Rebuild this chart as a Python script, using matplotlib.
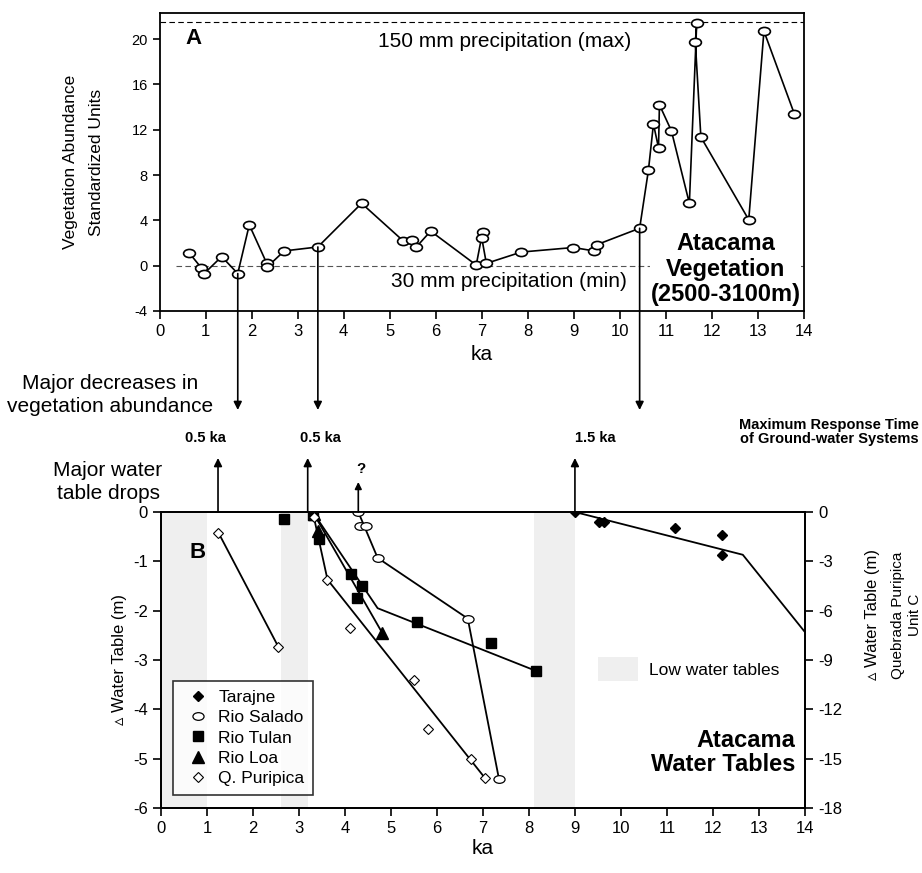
import numpy as np
import matplotlib
matplotlib.use('Agg')
import matplotlib.pyplot as plt
from matplotlib.path import Path
from matplotlib.transforms import Affine2D
from matplotlib.lines import Line2D
from matplotlib.patches import Patch

plt.rcParams['font.family'] = ['Liberation Sans', 'DejaVu Sans']
plt.rcParams['axes.unicode_minus'] = False

# ---- panel A: vegetation abundance (ka, standardized units)
veg_ka = [0.65, 0.91, 0.97, 1.35, 1.70, 1.95, 2.33, 2.33, 2.71, 3.44, 4.39, 5.29, 5.48,
          5.58, 5.89, 6.88, 7.02, 7.00, 7.10, 7.86, 8.99, 9.44, 9.50, 10.43, 10.62,
          10.73, 10.84, 10.86, 11.12, 11.51, 11.67, 11.64, 11.76, 12.80, 13.13, 13.79]
veg_val = [1.1, -0.2, -0.7, 0.8, -0.7, 3.6, 0.2, -0.15, 1.3, 1.65, 5.5, 2.2, 2.25,
           1.65, 3.05, 0.05, 3.0, 2.45, 0.2, 1.2, 1.6, 1.3, 1.85, 3.3, 8.4,
           12.5, 10.4, 14.2, 11.9, 5.5, 21.45, 19.7, 11.35, 4.05, 20.7, 13.4]
precip_max = 21.5
precip_min = 0.0
veg_drops = [(1.70, -0.7), (3.44, 1.65), (10.43, 3.3)]

# ---- panel B: water tables (ka, m)
tarajne_ka = [9.0, 9.52, 9.63, 11.17, 12.2, 12.2]
tarajne_wt = [0.0, -0.6, -0.6, -0.95, -1.4, -2.6]        # right axis
tarajne_fit_ka = [9.0, 12.65, 14.0]
tarajne_fit_wt = [0.0, -2.6, -7.3]

salado_ka = [4.29, 4.33, 4.46, 4.71, 6.67, 7.35]
salado_wt = [0.0, -0.28, -0.28, -0.93, -2.16, -5.42]
salado_fit_ka = [4.29, 4.71, 6.67, 7.35]
salado_fit_wt = [0.0, -0.93, -2.16, -5.42]

tulan_ka = [2.68, 3.31, 3.43, 4.14, 4.38, 4.27, 5.56, 7.17, 8.15]
tulan_wt = [-0.15, -0.06, -0.55, -1.26, -1.5, -1.75, -2.22, -2.66, -3.22]
tulan_fit_ka = [3.3, 4.71, 8.15]
tulan_fit_wt = [0.0, -1.95, -3.22]

loa_ka = [3.33, 3.42, 4.81]
loa_wt = [-0.05, -0.38, -2.45]
loa_fit_ka = [3.3, 4.81]
loa_fit_wt = [0.0, -2.45]

puripica_ka = [1.25, 2.55, 3.33, 3.62, 4.11, 5.51, 5.80, 6.74, 7.05]
puripica_wt = [-0.42, -2.73, -0.1, -1.37, -2.36, -3.41, -4.39, -5.0, -5.4]
puripica_fit1_ka = [1.25, 2.55]
puripica_fit1_wt = [-0.42, -2.73]
puripica_fit2_ka = [3.3, 3.62, 7.05]
puripica_fit2_wt = [0.0, -1.37, -5.4]

low_tables = [(0.0, 1.0), (2.6, 3.2), (8.1, 9.0)]
wt_drops = [1.24, 3.19, 9.0]
wt_drop_uncertain = 4.29
response_labels = ['0.5 ka', '0.5 ka', '1.5 ka']

W, H = 922, 873


def px(x, y):
    return x / W, 1 - y / H


fig = plt.figure(figsize=(W / 100, H / 100), dpi=100)
axA = fig.add_axes([0.173, 0.6438, 0.699, 0.3413])
axB = fig.add_axes([0.1746, 0.0745, 0.6984, 0.339])

ellipse = Path.unit_circle().transformed(Affine2D().scale(1.45, 1.0))

# ---------------- panel A
axA.plot(veg_ka, veg_val, color='k', lw=1.2, marker=ellipse, ms=8.5,
         mfc='white', mec='k', mew=1.2, zorder=3)
axA.axhline(precip_max, color='k', lw=0.8, ls=(0, (5, 3)))
axA.hlines(precip_min, 0.35, 14, color='#555555', lw=0.8, ls=(0, (5, 3)))
axA.set_xlim(0, 14)
axA.set_ylim(-4, 22.3)
axA.set_xticks(range(0, 15))
axA.set_yticks(range(-4, 21, 4))
axA.tick_params(axis='y', direction='out', length=5, width=1.2, labelsize=10.5)
axA.tick_params(axis='x', direction='out', length=6, width=1.2, labelsize=12)
for s in axA.spines.values():
    s.set_linewidth(1.3)
axA.set_xlabel('ka', fontsize=15, labelpad=4)
axA.set_ylabel('Vegetation Abundance\nStandardized Units', fontsize=12.5,
               linespacing=1.9, labelpad=20)
axA.text(0.04, 0.95, 'A', transform=axA.transAxes, fontsize=16, fontweight='bold',
         va='top')
axA.text(7.5, precip_max - 0.9, '150 mm precipitation (max)', fontsize=15,
         ha='center', va='top')
axA.text(7.6, precip_min - 0.6, '30 mm precipitation (min)', fontsize=15,
         ha='center', va='top')
axA.text(12.3, -3.6, 'Atacama\nVegetation\n(2500-3100m)', fontsize=17,
         fontweight='bold', ha='center', va='bottom', linespacing=1.15,
         bbox=dict(facecolor='white', edgecolor='none', pad=0.5), zorder=4)

for x, y in veg_drops:
    axA.annotate('', xy=(x, px(0, 410)[1]), xycoords=('data', 'figure fraction'),
                 xytext=(x, y), textcoords='data', annotation_clip=False,
                 arrowprops=dict(arrowstyle='-|>', color='k', lw=1.2,
                                 mutation_scale=12, shrinkA=0, shrinkB=0))

# ---------------- panel B
for a, b in low_tables:
    axB.axvspan(a, b, color='#efefef', lw=0, zorder=0)

line_kw = dict(color='k', lw=1.3, zorder=2)
axB.plot(salado_fit_ka, salado_fit_wt, **line_kw)
axB.plot(tulan_fit_ka, tulan_fit_wt, **line_kw)
axB.plot(loa_fit_ka, loa_fit_wt, **line_kw)
axB.plot(puripica_fit1_ka, puripica_fit1_wt, **line_kw)
axB.plot(puripica_fit2_ka, puripica_fit2_wt, **line_kw)

axB.plot(salado_ka, salado_wt, ls='none', marker=ellipse, ms=8, mfc='white',
         mec='k', mew=0.9, zorder=3)
axB.plot(tulan_ka, tulan_wt, ls='none', marker='s', ms=7.5, color='k', zorder=3)
axB.plot(loa_ka, loa_wt, ls='none', marker='^', ms=8, color='k', zorder=3)
axB.plot(puripica_ka, puripica_wt, ls='none', marker='D', ms=5, mfc='white',
         mec='k', mew=0.8, zorder=4)

axB.set_xlim(0, 14)
axB.set_ylim(-6, 0)
axB.set_xticks(range(0, 15))
axB.set_yticks(range(-6, 1))
axB.tick_params(direction='out', length=6, width=1.2, labelsize=12)
for s in axB.spines.values():
    s.set_linewidth(1.3)
axB.set_xlabel('ka', fontsize=15, labelpad=2)
axB.set_ylabel('\u25b5 Water Table (m)', fontsize=12, labelpad=4)
axB.text(0.045, 0.9, 'B', transform=axB.transAxes, fontsize=16, fontweight='bold',
         va='top')
axB.text(13.8, -5.35, 'Atacama\nWater Tables', fontsize=17, fontweight='bold',
         ha='right', va='bottom', linespacing=1.05)

axR = axB.twinx()
axR.plot(tarajne_fit_ka, tarajne_fit_wt, color='k', lw=1.3, clip_on=True)
axR.plot(tarajne_ka, tarajne_wt, ls='none', marker='D', ms=5, color='k')
axR.set_ylim(-18, 0)
axR.set_yticks(range(-18, 1, 3))
axR.tick_params(direction='out', length=6, width=1.2, labelsize=12)
for s in axR.spines.values():
    s.set_linewidth(1.3)
fig.text(*px(873, 615), '\u25b5 Water Table (m)', fontsize=12, rotation=90,
         ha='center', va='center')
fig.text(*px(898, 615), 'Quebrada Puripica', fontsize=11, rotation=90,
         ha='center', va='center')
fig.text(*px(915, 615), 'Unit C', fontsize=11, rotation=90,
         ha='center', va='center')

handles = [
    Line2D([], [], ls='none', marker='D', ms=5, color='k'),
    Line2D([], [], ls='none', marker=ellipse, ms=8, mfc='white', mec='k', mew=0.9),
    Line2D([], [], ls='none', marker='s', ms=7.5, color='k'),
    Line2D([], [], ls='none', marker='^', ms=8, color='k'),
    Line2D([], [], ls='none', marker='D', ms=5, mfc='white', mec='k', mew=0.8),
]
labels = ['Tarajne', 'Rio Salado', 'Rio Tulan', 'Rio Loa', 'Q. Puripica']
leg = axR.legend(handles, labels, loc='lower left', bbox_to_anchor=(0.019, 0.044),
                 fontsize=12.5, frameon=True, fancybox=False, edgecolor='k',
                 handlelength=1.8, handletextpad=0.3, labelspacing=0.3,
                 borderpad=0.5, borderaxespad=0)
leg.get_frame().set_linewidth(1.2)
axR.add_artist(leg)
axR.legend([Patch(facecolor='#efefef', edgecolor='none')], ['Low water tables'],
           loc='center left', bbox_to_anchor=(0.655, 0.47), fontsize=12.5,
           frameon=False, handlelength=2.3, handleheight=1.7, handletextpad=0.6)

# arrows between panels
for x in wt_drops:
    axB.annotate('', xy=(x, px(0, 458)[1]), xycoords=('data', 'figure fraction'),
                 xytext=(x, 0), textcoords='data', annotation_clip=False,
                 arrowprops=dict(arrowstyle='-|>', color='k', lw=1.2,
                                 mutation_scale=12, shrinkA=0, shrinkB=0))
axB.annotate('', xy=(wt_drop_uncertain, px(0, 482)[1]),
             xycoords=('data', 'figure fraction'),
             xytext=(wt_drop_uncertain, 0), textcoords='data', annotation_clip=False,
             arrowprops=dict(arrowstyle='-|>', color='k', lw=1.2,
                             mutation_scale=10, shrinkA=0, shrinkB=0))
fig.text(*px(361, 469), '?', fontsize=11, fontweight='bold', ha='center',
         va='center')

for xp, lab in zip([205, 320, 595], response_labels):
    fig.text(*px(xp, 438), lab, fontsize=10.5, fontweight='bold', ha='center',
             va='center')
fig.text(*px(919, 432), 'Maximum Response Time\nof Ground-water Systems',
         fontsize=10.5, fontweight='bold', ha='right', va='center',
         multialignment='center', linespacing=1.05)
fig.text(*px(110, 395), 'Major decreases in\nvegetation abundance', fontsize=15,
         ha='center', va='center', linespacing=1.3)
fig.text(*px(108, 482), 'Major water\ntable drops', fontsize=15,
         ha='center', va='center', linespacing=1.25)

fig.savefig('out.png', dpi=100)
